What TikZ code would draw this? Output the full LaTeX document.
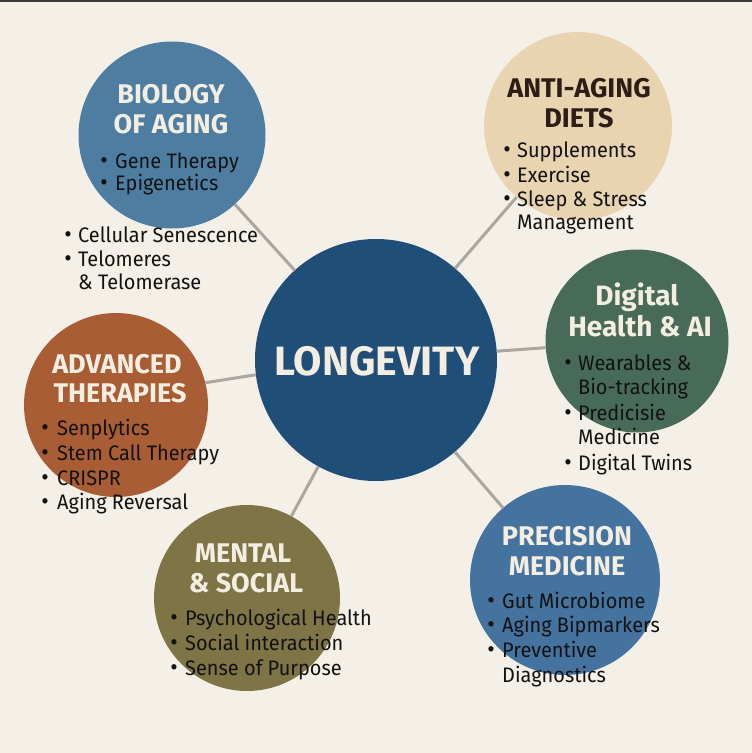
\documentclass[tikz,border=0pt]{standalone}
\usepackage{fontspec}
\setmainfont{Fira Sans}
\newfontfamily\titlef{Fira Sans}
\newfontfamily\bodyf[FakeStretch=0.95]{Fira Sans}
\definecolor{bg}{HTML}{F5F0E7}
\definecolor{topline}{HTML}{3C3A38}
\definecolor{conncol}{HTML}{ABA7A0}
\definecolor{loncol}{HTML}{1F4E79}
\definecolor{biocol}{HTML}{4D7EA2}
\definecolor{anticol}{HTML}{E9D4B2}
\definecolor{digcol}{HTML}{486A58}
\definecolor{advcol}{HTML}{A95D34}
\definecolor{mencol}{HTML}{7E7445}
\definecolor{precol}{HTML}{45739F}
\definecolor{cream}{HTML}{F4EEE2}
\definecolor{brown}{HTML}{2E1C16}
\definecolor{txt}{HTML}{121212}
\tikzset{
  bubble/.style={circle, inner sep=0pt, draw=none},
  conn/.style={draw=conncol, line width=3pt},
  ttl/.style={font=\titlef\bfseries\fontsize{27}{30}\selectfont, text=cream, anchor=base, inner sep=0pt},
  item/.style={font=\bodyf\fontsize{21}{24}\selectfont, text=txt, anchor=base west, inner sep=0pt},
  dot/.style={font=\bodyf\fontsize{24}{24}\selectfont, text=txt, anchor=base, inner sep=0pt}
}
\begin{document}
\begin{tikzpicture}[x=1pt,y=-1pt]
\fill[bg] (0,0) rectangle (752,753);
\useasboundingbox (0,0) rectangle (752,753);
\draw[topline, line width=1.5pt] (0,0.75) -- (752,0.75);
% bubbles
\node[bubble, fill=loncol, minimum size=242pt] (lon) at (376,360) {};
\node[bubble, fill=biocol, minimum size=187pt] (bio) at (172,135) {};
\node[bubble, fill=anticol, minimum size=188pt] (anti) at (578,126) {};
\node[bubble, fill=digcol, minimum size=183pt] (dig) at (637,341) {};
\node[bubble, fill=advcol, minimum size=184pt] (adv) at (116,405) {};
\node[bubble, fill=mencol, minimum size=186pt] (men) at (247,598) {};
\node[bubble, fill=precol, minimum size=190pt] (pre) at (565,580) {};
% connectors
\draw[conn] (bio) -- (lon);
\draw[conn] (anti) -- (lon);
\draw[conn] (dig) -- (lon);
\draw[conn] (adv.14) -- (lon.187);
\draw[conn] (men) -- (lon);
\draw[conn] (pre) -- (lon);
% center title
\node[ttl, font=\titlef\bfseries\fontsize{41}{44}\selectfont] (lont) at (377,375) {LONGEVITY};
% biology
\node[ttl] (biot1) at (171,103) {BIOLOGY};
\node[ttl] (biot2) at (171,133) {OF AGING};
\node[dot] (biod1) at (104,168) {•};
\node[item] (bioi1) at (115,168) {Gene Therapy};
\node[dot] (biod2) at (104,190) {•};
\node[item] (bioi2) at (115,190) {Epigenetics};
\node[dot] (biod3) at (68,242) {•};
\node[item] (bioi3) at (78,242) {Cellular Senescence};
\node[dot] (biod4) at (68,266) {•};
\node[item] (bioi4) at (78,266) {Telomeres};
\node[item] (bioi5) at (78,289) {\& Telomerase};
% anti-aging
\node[ttl, text=brown] (antit1) at (579,97) {ANTI-AGING};
\node[ttl, text=brown] (antit2) at (579,127) {DIETS};
\node[dot] (antid1) at (507,157) {•};
\node[item] (antii1) at (517,157) {Supplements};
\node[dot] (antid2) at (507,182) {•};
\node[item] (antii2) at (517,182) {Exercise};
\node[dot] (antid3) at (507,206) {•};
\node[item] (antii3) at (517,206) {Sleep \& Stress};
\node[item] (antii4) at (517,229) {Management};
% digital
\node[ttl, font=\titlef\bfseries\fontsize{28}{30}\selectfont] (digt1) at (637,305) {Digital};
\node[ttl, font=\titlef\bfseries\fontsize{28}{30}\selectfont] (digt2) at (640,336) {Health \& AI};
\node[dot] (digd1) at (568,370) {•};
\node[item] (digi1) at (578,370) {Wearables \&};
\node[item] (digi2) at (578,394) {Bio-tracking};
\node[dot] (digd3) at (568,420) {•};
\node[item] (digi3) at (578,420) {Predicisie};
\node[item] (digi4) at (578,444) {Medicine};
\node[dot] (digd5) at (568,470) {•};
\node[item] (digi5) at (578,470) {Digital Twins};
% advanced
\node[ttl] (advt1) at (117,373) {ADVANCED};
\node[ttl] (advt2) at (120,402) {THERAPIES};
\node[dot] (advd1) at (45,435) {•};
\node[item] (advi1) at (57,435) {Senplytics};
\node[dot] (advd2) at (45,460) {•};
\node[item] (advi2) at (57,460) {Stem Call Therapy};
\node[dot] (advd3) at (45,485) {•};
\node[item] (advi3) at (57,485) {CRISPR};
\node[dot] (advd4) at (45,509) {•};
\node[item] (advi4) at (57,509) {Aging Reversal};
% mental
\node[ttl] (ment1) at (243,562) {MENTAL};
\node[ttl] (ment2) at (246,592) {\& SOCIAL};
\node[dot] (mend1) at (174,625) {•};
\node[item] (meni1) at (185,625) {Psychological Health};
\node[dot] (mend2) at (174,650) {•};
\node[item] (meni2) at (185,650) {Social interaction};
\node[dot] (mend3) at (174,675) {•};
\node[item] (meni3) at (185,675) {Sense of Purpose};
% precision
\node[ttl] (pret1) at (567,545) {PRECISION};
\node[ttl] (pret2) at (567,575) {MEDICINE};
\node[dot] (pred1) at (491,608) {•};
\node[item] (prei1) at (502,608) {Gut Microbiome};
\node[dot] (pred2) at (491,632) {•};
\node[item] (prei2) at (502,632) {Aging Bipmarkers};
\node[dot] (pred3) at (491,657) {•};
\node[item] (prei3) at (502,657) {Preventive};
\node[item] (prei4) at (502,682) {Diagnostics};
\end{tikzpicture}
\end{document}
